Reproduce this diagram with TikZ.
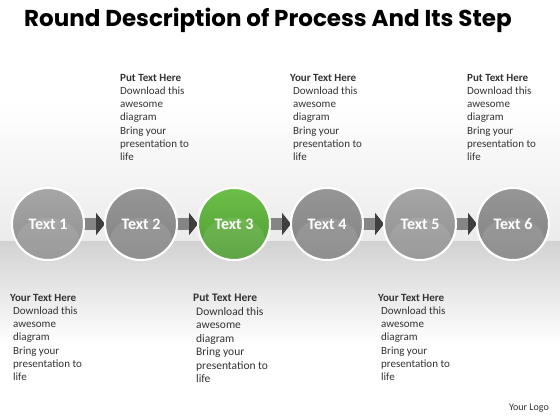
\documentclass[tikz,border=0pt]{standalone}
\usepackage{fontspec}
\setmainfont{Carlito}
\newfontfamily\titlefont{Poppins}
\usetikzlibrary{arrows.meta}
\definecolor{bandmid}{HTML}{EBEBEB}
\definecolor{lowtop}{HTML}{D2D2D2}
\definecolor{greyA}{HTML}{A6A6A6}
\definecolor{greyB}{HTML}{8E8E8E}
\definecolor{greenA}{HTML}{6CBF4A}
\definecolor{greenB}{HTML}{4E9A31}
\definecolor{barcol}{HTML}{858585}
\definecolor{headcol}{HTML}{3F3F3F}
\definecolor{txt}{HTML}{333333}
\tikzset{
  ball/.style={circle, minimum size=72pt, inner sep=0pt, draw=white, line width=2pt,
     font=\bfseries\fontsize{16}{18}\selectfont, text=white, outer sep=0pt,
     path picture={\fill[white, opacity=0.10] ([yshift=-16pt]path picture bounding box.center) ellipse [x radius=31pt, y radius=22pt];}},
  greyball/.style={ball, top color=greyA, bottom color=greyB},
  greyball2/.style={ball, top color=greyA!90!black, bottom color=greyB!92!black},
  greenball/.style={ball, top color=greenA, bottom color=greenB},
  conn/.style={line width=12pt, barcol, -{Triangle[length=9pt,width=22pt,color=headcol]}},
  desc/.style={anchor=north west, align=left, inner sep=0pt, text=txt,
     font=\fontsize{11}{13.2}\selectfont},
}
\newcommand{\ind}{\hspace*{3pt}}
\begin{document}
\begin{tikzpicture}[x=1pt,y=-1pt]
\useasboundingbox (0,0) rectangle (560,420);
\fill[white] (0,0) rectangle (560,420);
\shade[top color=white, bottom color=bandmid] (0,100) rectangle (560,241);
\shade[top color=lowtop, bottom color=white] (0,241) rectangle (560,345);
\node[anchor=west, inner sep=0pt, font=\titlefont\bfseries\fontsize{23}{27}\selectfont] (title) at (24,20) {Round Description of Process And Its Step};
% circles (named, used for connectors)
\node[greyball] (c1) at (48,224) {Text 1};
\node[greyball2] (c2) at (141,224) {Text 2};
\node[greenball] (c3) at (234,224) {Text 3};
\node[greyball2] (c4) at (327,224) {Text 4};
\node[greyball] (c5) at (420,224) {Text 5};
\node[greyball2] (c6) at (513,224) {Text 6};
\foreach \a/\b in {c1/c2,c2/c3,c3/c4,c4/c5,c5/c6}{
  \draw[conn] (\a.east) -- (\b.west);
}
% circles again, above the bars
\node[greyball] at (48,224) {Text 1};
\node[greyball2] at (141,224) {Text 2};
\node[greenball] at (234,224) {Text 3};
\node[greyball2] at (327,224) {Text 4};
\node[greyball] at (420,224) {Text 5};
\node[greyball2] at (513,224) {Text 6};
% top texts
\node[desc] (t2) at (120,74) {\textbf{Put Text Here}\\Download this\\awesome\\diagram\\Bring your\\presentation to\\life};
\node[desc] (t4) at (290,74) {\textbf{Your Text Here}\\\ind Download this\\\ind awesome\\\ind diagram\\\ind Bring your\\\ind presentation to\\\ind life};
\node[desc] (t6) at (467,74) {\textbf{Put Text Here}\\Download this\\awesome\\diagram\\Bring your\\presentation to\\life};
% bottom texts
\node[desc] (b1) at (10,294) {\textbf{Your Text Here}\\\ind Download this\\\ind awesome\\\ind diagram\\\ind Bring your\\\ind presentation to\\\ind life};
\node[desc, font=\fontsize{11.5}{13.5}\selectfont] (b3) at (193,294) {\textbf{Put Text Here}\\\ind Download this\\\ind awesome\\\ind diagram\\\ind Bring your\\\ind presentation to\\\ind life};
\node[desc] (b5) at (378,294) {\textbf{Your Text Here}\\\ind Download this\\\ind awesome\\\ind diagram\\\ind Bring your\\\ind presentation to\\\ind life};
\node[anchor=east, inner sep=0pt, text=txt, font=\fontsize{10}{12}\selectfont] (logo) at (549,408) {Your Logo};
\end{tikzpicture}
\end{document}
